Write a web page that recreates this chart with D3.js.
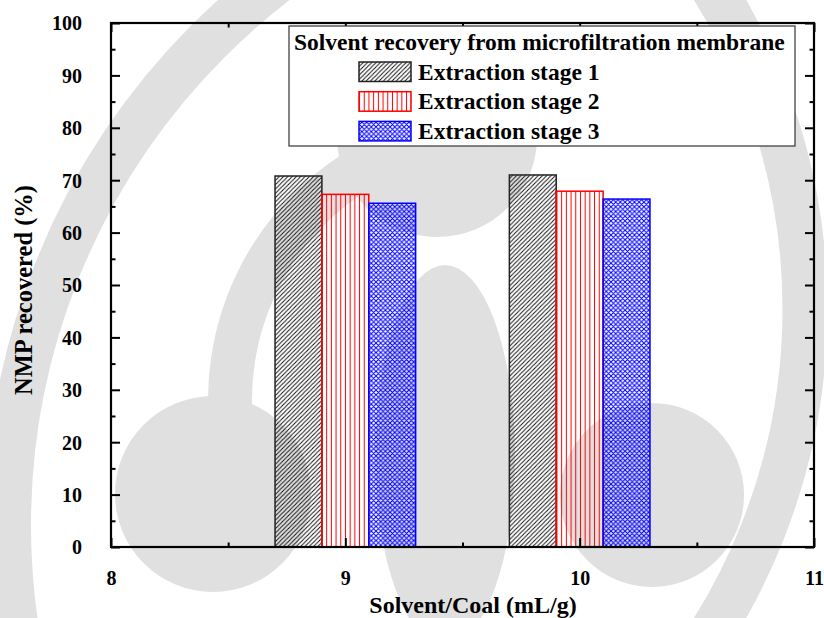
<!DOCTYPE html>
<html>
<head>
<meta charset="utf-8">
<script src="https://cdn.jsdelivr.net/npm/d3@7"></script>
<style>
  html, body { margin: 0; padding: 0; background: #fff; }
  svg { display: block; }
  text { font-family: "Liberation Serif", "Times New Roman", serif; font-weight: bold; fill: #000; }
</style>
</head>
<body>
<svg id="chart" width="824" height="618"></svg>
<script>
// Solvent-to-coal ratios (mL/g) and NMP recovered (%) per extraction stage
const ratios = [9, 10];
const stageNames = ["Extraction stage 1", "Extraction stage 2", "Extraction stage 3"];
const stage1 = [70.8, 71.0];
const stage2 = [67.3, 67.9];
const stage3 = [65.6, 66.4];
const xTickValues = [8, 9, 10, 11];
const xMinorValues = [8.5, 9.5, 10.5];
const yTickValues = [0, 10, 20, 30, 40, 50, 60, 70, 80, 90, 100];
const yMinorValues = [5, 15, 25, 35, 45, 55, 65, 75, 85, 95];
const legendTitle = "Solvent recovery from microfiltration membrane";
const xTitle = "Solvent/Coal (mL/g)";
const yTitle = "NMP recovered (%)";

const series = [stage1, stage2, stage3];

const svg = d3.select("#chart");
const plot = { left: 111, right: 814, top: 23, bottom: 547 };

const x = d3.scaleLinear().domain([8, 11]).range([plot.left, plot.right]);
const y = d3.scaleLinear().domain([0, 100]).range([plot.bottom, plot.top]);

// faint background emblem
const grey = "#e0e0e0";
const wm = svg.append("g").attr("class", "emblem").attr("fill", grey).attr("stroke", grey);
wm.append("circle").attr("cx", 693).attr("cy", 525).attr("r", 685).attr("fill", "none").attr("stroke-width", 46);
wm.append("circle").attr("cx", 200).attr("cy", 309).attr("r", 605).attr("fill", "none").attr("stroke-width", 45);
wm.append("path").attr("transform", "translate(500,400)").attr("stroke", "none")
  .attr("d", d3.arc().innerRadius(248).outerRadius(292).startAngle(-1.78).endAngle(-0.36)());
wm.append("circle").attr("cx", 437).attr("cy", 137).attr("r", 100).attr("stroke", "none");
wm.append("circle").attr("cx", 213).attr("cy", 494).attr("r", 98).attr("stroke", "none");
wm.append("circle").attr("cx", 652).attr("cy", 495).attr("r", 92).attr("stroke", "none");
wm.append("ellipse").attr("cx", 445).attr("cy", 455).attr("rx", 70).attr("ry", 190).attr("stroke", "none");

// fill patterns for the three stages
const defs = svg.append("defs");
const p1 = defs.append("pattern").attr("id", "pat1").attr("patternUnits", "userSpaceOnUse")
  .attr("width", 4.3).attr("height", 4.3);
p1.append("path").attr("d", "M-1,1 L1,-1 M0,4.3 L4.3,0 M3.3,5.3 L5.3,3.3")
  .attr("stroke", "#111").attr("stroke-width", 1).attr("fill", "none");

const p2 = defs.append("pattern").attr("id", "pat2").attr("patternUnits", "userSpaceOnUse")
  .attr("width", 4.7).attr("height", 10);
p2.append("path").attr("d", "M2.35,0 V10").attr("stroke", "#ff0000").attr("stroke-width", 1).attr("fill", "none");

const p3 = defs.append("pattern").attr("id", "pat3").attr("patternUnits", "userSpaceOnUse")
  .attr("width", 4.7).attr("height", 4.7);
p3.append("path").attr("d", "M0,0 L4.7,4.7 M4.7,0 L0,4.7 M-1,1 L1,-1 M3.7,5.7 L5.7,3.7 M-1,3.7 L1,5.7 M3.7,-1 L5.7,1")
  .attr("stroke", "#0000ff").attr("stroke-width", 1).attr("fill", "none");

const fills = ["url(#pat1)", "url(#pat2)", "url(#pat3)"];
const strokes = ["#222222", "#ff0000", "#0000ff"];
const barW = 0.2;

// bars
series.forEach((vals, i) => {
  svg.append("g").attr("class", "stage" + (i + 1))
    .selectAll("rect").data(vals).join("rect")
    .attr("x", (d, j) => x(ratios[j] + (i - 1) * barW - barW / 2))
    .attr("width", x(8 + barW) - x(8))
    .attr("y", d => y(d))
    .attr("height", d => y(0) - y(d))
    .attr("fill", fills[i])
    .attr("stroke", strokes[i])
    .attr("stroke-width", 1.5);
});

// axes (ticks pointing inward)
function styleAxis(g) {
  g.attr("font-family", null).attr("font-size", null);
  g.select(".domain").remove();
  g.selectAll(".tick line").attr("stroke", "#000").attr("stroke-width", 2);
  g.selectAll(".tick text").style("font-size", "20px");
}

svg.append("g").attr("transform", `translate(${plot.left},0)`)
  .call(d3.axisLeft(y).tickValues(yTickValues).tickSize(-9).tickPadding(29).tickFormat(d3.format("d")))
  .call(styleAxis)
  .selectAll(".tick text").attr("dy", "0.34em");
svg.append("g").attr("transform", `translate(${plot.left},0)`)
  .call(d3.axisLeft(y).tickValues(yMinorValues).tickSize(-4.5).tickFormat(""))
  .call(styleAxis);

svg.append("g").attr("transform", `translate(${plot.right},0)`)
  .call(d3.axisRight(y).tickValues(yTickValues).tickSize(-9).tickFormat(""))
  .call(styleAxis);
svg.append("g").attr("transform", `translate(${plot.right},0)`)
  .call(d3.axisRight(y).tickValues(yMinorValues).tickSize(-4.5).tickFormat(""))
  .call(styleAxis);

svg.append("g").attr("transform", `translate(0,${plot.bottom})`)
  .call(d3.axisBottom(x).tickValues(xTickValues).tickSize(-9).tickPadding(24).tickFormat(d3.format("d")))
  .call(styleAxis);
svg.append("g").attr("transform", `translate(0,${plot.bottom})`)
  .call(d3.axisBottom(x).tickValues(xMinorValues).tickSize(-4.5).tickFormat(""))
  .call(styleAxis);

svg.append("g").attr("transform", `translate(0,${plot.top})`)
  .call(d3.axisTop(x).tickValues(xTickValues).tickSize(-9).tickFormat(""))
  .call(styleAxis);
svg.append("g").attr("transform", `translate(0,${plot.top})`)
  .call(d3.axisTop(x).tickValues(xMinorValues).tickSize(-4.5).tickFormat(""))
  .call(styleAxis);

// frame
svg.append("rect")
  .attr("x", plot.left).attr("y", plot.top)
  .attr("width", plot.right - plot.left).attr("height", plot.bottom - plot.top)
  .attr("fill", "none").attr("stroke", "#000").attr("stroke-width", 2.2);

// legend
const lg = svg.append("g").attr("class", "legend");
lg.append("rect").attr("x", 289).attr("y", 26).attr("width", 506).attr("height", 120)
  .attr("fill", "#fff").attr("stroke", "#333").attr("stroke-width", 1.2);
lg.append("text").attr("x", 294).attr("y", 50).style("font-size", "23.5px").text(legendTitle);
stageNames.forEach((name, i) => {
  const yy = 62 + i * 29.7;
  lg.append("rect").attr("x", 359).attr("y", yy).attr("width", 52).attr("height", 19.5)
    .attr("fill", fills[i]).attr("stroke", strokes[i]).attr("stroke-width", 1.5);
  lg.append("text").attr("x", 418).attr("y", yy + 17.5).style("font-size", "23.5px").text(name);
});

// axis titles
svg.append("text").attr("x", 473).attr("y", 613).attr("text-anchor", "middle")
  .style("font-size", "24px").text(xTitle);
svg.append("text").attr("transform", "translate(32,290) rotate(-90)").attr("text-anchor", "middle")
  .style("font-size", "24.5px").text(yTitle);
</script>
</body>
</html>
